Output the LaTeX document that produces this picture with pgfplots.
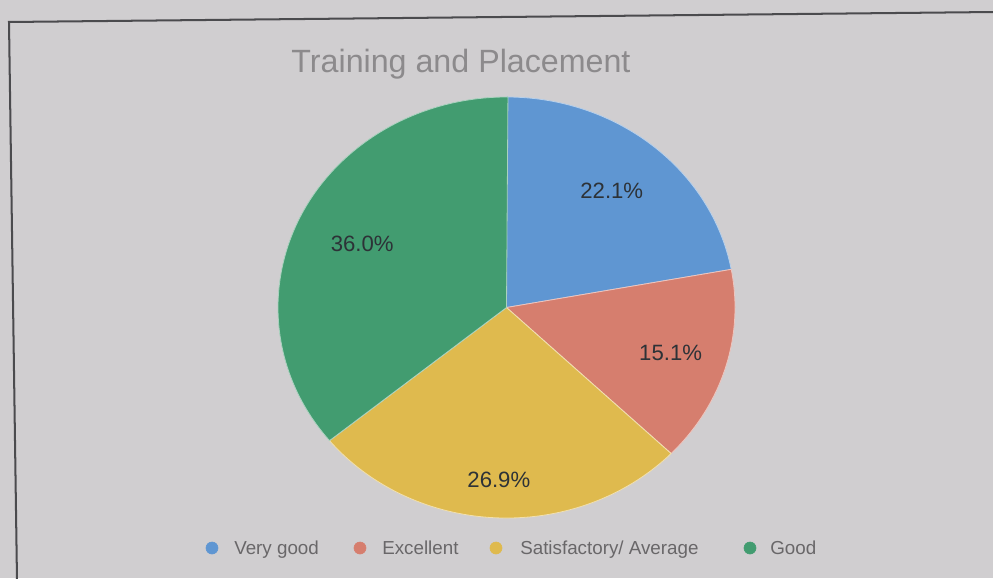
\documentclass[border=0pt]{standalone}
\usepackage{pgfplots}
\pgfplotsset{compat=1.18}
\usepackage{pgfplotstable}
\usepackage{fontspec}
\setmainfont{Liberation Sans}
\definecolor{bg}{RGB}{208,206,208}
\definecolor{slice0}{RGB}{95,150,210}
\definecolor{slice1}{RGB}{214,126,110}
\definecolor{slice2}{RGB}{223,186,78}
\definecolor{slice3}{RGB}{66,156,112}
\definecolor{titlegray}{RGB}{140,138,140}
\definecolor{leggray}{RGB}{105,103,105}
\definecolor{labdark}{RGB}{45,50,55}
\definecolor{framegray}{RGB}{75,75,78}
\newcommand\labfont{\fontsize{16.5}{18}\selectfont}
\newcommand\legfont{\fontsize{14}{16}\selectfont}
\pgfplotstableread{
value lf
22.1 0.72
15.1 0.75
26.9 0.82
36.0 0.70
}\piedata
\def\cx{506.5}
\def\cy{270.5}
\def\rxp{228.5}
\def\ryp{210.5}
\def\rx{5.983}
\def\ry{5.512}
\begin{document}
\begin{tikzpicture}
\begin{axis}[
  width=26cm, height=15.134cm, scale only axis,
  xmin=0, xmax=993, ymin=0, ymax=578,
  axis line style={draw=none}, xtick=\empty, ytick=\empty,
  axis background/.style={fill=bg},
  clip=true,
]
\draw[framegray, line width=1.5pt] (axis cs:995,566) -- (axis cs:9,556) -- (axis cs:17,-2);
\node[font=\fontsize{24}{28}\selectfont, text=titlegray, anchor=base] at (axis cs:461,505) {Training and Placement};
\def\startang{90}
\pgfplotsforeachungrouped \i in {0,1,2,3}{%
  \pgfplotstablegetelem{\i}{value}\of\piedata
  \let\val\pgfplotsretval
  \pgfmathsetmacro\endang{\startang-3.6*\val}
  \edef\temp{%
    \noexpand\fill[slice\i, draw=white!55!slice\i, line width=0.6pt] (axis cs:\cx,\cy) -- ++(\startang:\rx cm and \ry cm) arc[start angle=\startang, end angle=\endang, x radius=\rx cm, y radius=\ry cm] -- cycle;
  }\temp
  \global\let\startang\endang
}
\def\startang{90}
\pgfplotsforeachungrouped \i in {0,1,2,3}{%
  \pgfplotstablegetelem{\i}{value}\of\piedata
  \let\val\pgfplotsretval
  \pgfplotstablegetelem{\i}{lf}\of\piedata
  \let\lf\pgfplotsretval
  \pgfmathsetmacro\endang{\startang-3.6*\val}
  \pgfmathsetmacro\midang{\startang-1.8*\val}
  \pgfmathsetmacro\lx{\cx+\lf*\rxp*cos(\midang)}
  \pgfmathsetmacro\ly{\cy+\lf*\ryp*sin(\midang)}
  \edef\temp{%
    \noexpand\node[font=\noexpand\labfont, text=labdark] at (axis cs:\lx,\ly) {\val\noexpand\%};
  }\temp
  \global\let\startang\endang
}
% legend
\addplot[only marks, mark=*, mark size=4.5pt, color=slice0] coordinates {(212,30)};
\addplot[only marks, mark=*, mark size=4.5pt, color=slice1] coordinates {(360,30)};
\addplot[only marks, mark=*, mark size=4.5pt, color=slice2] coordinates {(496,30)};
\addplot[only marks, mark=*, mark size=4.5pt, color=slice3] coordinates {(750,30)};
\node[font=\legfont, text=leggray, anchor=base west, inner sep=0pt] at (axis cs:234,24) {Very good};
\node[font=\legfont, text=leggray, anchor=base west, inner sep=0pt] at (axis cs:382,24) {Excellent};
\node[font=\legfont, text=leggray, anchor=base west, inner sep=0pt] at (axis cs:520,24) {Satisfactory/ Average};
\node[font=\legfont, text=leggray, anchor=base west, inner sep=0pt] at (axis cs:770,24) {Good};
\end{axis}
\end{tikzpicture}
\end{document}
